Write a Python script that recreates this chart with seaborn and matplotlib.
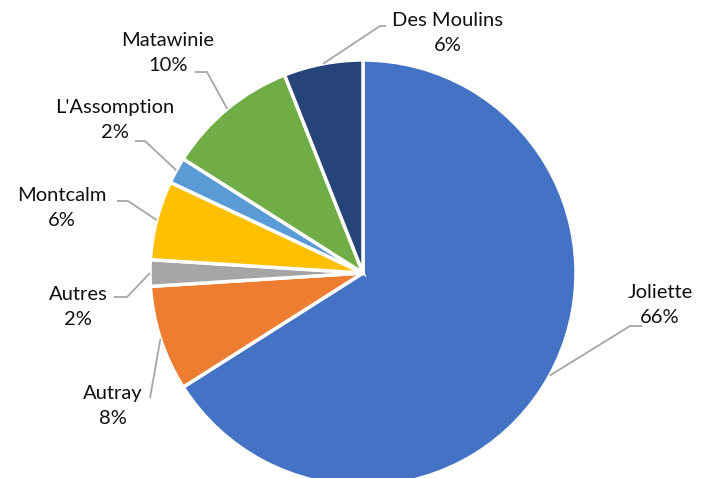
import matplotlib
matplotlib.use("Agg")
import matplotlib.pyplot as plt
import seaborn as sns
import numpy as np

# ---- data ----
categories = ["Joliette", "Autray", "Autres", "Montcalm", "L'Assomption", "Matawinie", "Des Moulins"]
shares = [66, 8, 2, 6, 2, 10, 6]
colors = ["#4472C4", "#ED7D31", "#A5A5A5", "#FFC000", "#5B9BD5", "#70AD47", "#264478"]

# ---- layout (pixel space of a 705x478 canvas) ----
W, H = 705, 478
CX, CY, R = 363, 273, 213
# label block centres and elbow points (pixels, y downward)
label_pos = [(660, 305), (113, 406), (78, 307), (62, 208), (115, 120), (168, 53), (448, 33)]
elbow_a = [(630, 326), (150, 398), (127, 297), (128, 201), (145, 141), (207, 72), (380, 26)]
elbow_b = [(642, 326), (150, 398), (114, 297), (117, 201), (135, 141), (195, 72), (386, 26)]

sns.set_theme(style="white")
plt.rcParams["font.family"] = ["Lato", "DejaVu Sans"]

fig = plt.figure(figsize=(W / 100, H / 100), dpi=100)
ax = fig.add_axes([0, 0, 1, 1])

def px(x, y):
    return ((x - CX) / R, (CY - y) / R)

wedges, _ = ax.pie(shares, colors=colors, startangle=90, counterclock=False,
                   radius=1, center=(0, 0),
                   wedgeprops=dict(edgecolor="white", linewidth=2.5))

total = sum(shares)
cum = 0
for i, (cat, val) in enumerate(zip(categories, shares)):
    mid = (cum + val / 2) / total * 2 * np.pi
    cum += val
    sx, sy = np.sin(mid), np.cos(mid)
    ax_, ay_ = px(*elbow_a[i])
    bx_, by_ = px(*elbow_b[i])
    ax.plot([sx, ax_, bx_], [sy, ay_, by_], color="#A6A6A6", lw=1.3,
            solid_capstyle="butt", zorder=1)
    lx, ly = px(*label_pos[i])
    ax.text(lx, ly, f"{cat}\n{val}%", ha="center", va="center",
            fontsize=14.5, color="#111111", linespacing=1.55)

ax.set_xlim(-CX / R, (W - CX) / R)
ax.set_ylim(-(H - CY) / R, CY / R)
ax.set_aspect("equal")
ax.axis("off")
fig.savefig("out.png", dpi=100, facecolor="white")
